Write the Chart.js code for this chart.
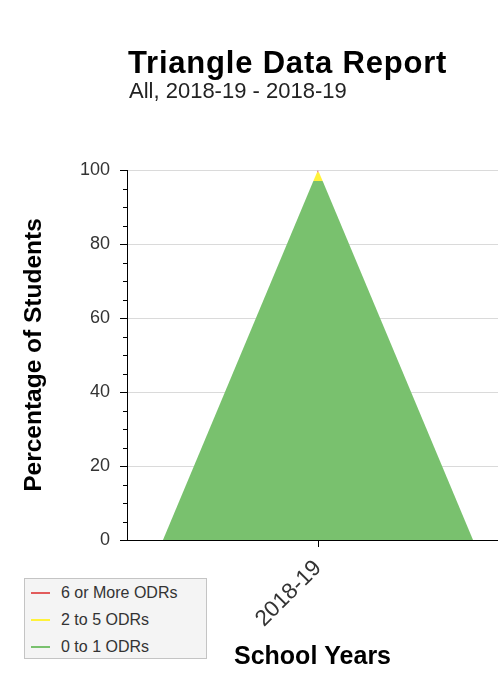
<!DOCTYPE html>
<html>
<head>
<meta charset="utf-8">
<script src="https://cdn.jsdelivr.net/npm/chart.js@4.4.0/dist/chart.umd.min.js"></script>
<style>
  html, body { margin: 0; padding: 0; background: #fff; overflow: hidden; }
  #wrap { position: relative; width: 498px; height: 694px; font-family: "Liberation Sans", Arial, sans-serif; }
  #chart { position: absolute; left: 0; top: 0; }
  #title { position: absolute; left: 128px; top: 47px; font-size: 31px; line-height: 31px; letter-spacing: 0.8px; font-weight: bold; color: #000; white-space: nowrap; }
  #subtitle { position: absolute; left: 129px; top: 80px; font-size: 22px; line-height: 22px; color: #222; white-space: nowrap; }
  #legend { position: absolute; left: 24px; top: 578px; width: 181px; height: 79px; background: #f4f4f4; border: 1px solid #c4c4c4; }
  .item { position: absolute; left: 0; width: 180px; height: 20px; font-size: 16px; line-height: 20px; color: #333; white-space: nowrap; }
  .item span.line { position: absolute; left: 6px; top: 9px; width: 19px; height: 2px; }
  .item span.txt { position: absolute; left: 36px; top: 0; }
</style>
</head>
<body>
<div id="wrap">
  <canvas id="chart" width="498" height="694"></canvas>
  <div id="title">Triangle Data Report</div>
  <div id="subtitle">All, 2018-19 - 2018-19</div>
  <div id="legend"></div>
</div>
<script>
// data (percent of students)
const years = ['2018-19']
const seriesNames = ['6 or More ODRs', '2 to 5 ODRs', '0 to 1 ODRs']
const seriesColors = ['#e25b5b', '#fff23a', '#79c16e']
const sixOrMore = [0.6]
const twoToFive = [2.4]
const zeroToOne = [97.0]
const yTicks = [0, 20, 40, 60, 80, 100]
const minorStep = 5

window.onload = function() {

    // one trapezoid slice of the triangle, between two cumulative percentages
    // the triangle's half width is 1 at 0 % and shrinks to 0 at 100 %
    function slice(bottom, top, xc) {
        let w = v => 1 - v / 100
        return [
            {x: xc - w(bottom), y: bottom},
            {x: xc - w(top), y: top},
            {x: xc + w(top), y: top},
            {x: xc + w(bottom), y: bottom}
        ]
    }

    // stack from the bottom up: 0-1, 2-5, 6+
    let layers = [[], [], []]
    years.forEach((yr, i) => {
        let xc = i * 2.5
        let b0 = 0, t0 = zeroToOne[i]
        let b1 = t0, t1 = b1 + twoToFive[i]
        let b2 = t1, t2 = b2 + sixOrMore[i]
        layers[2].push(...slice(b0, t0, xc))
        layers[1].push(...slice(b1, t1, xc))
        layers[0].push(...slice(b2, t2, xc))
    })

    let datasets = seriesNames.map((name, k) => ({
        label: name,
        data: layers[k],
        backgroundColor: seriesColors[k],
        borderColor: seriesColors[k],
        borderWidth: 0,
        pointRadius: 0,
        fill: 'shape',
        tension: 0
    }))

    // short minor ticks on the y axis every 5 %
    let minorTicks = {
        id: 'minorTicks',
        afterDraw(chart) {
            let y = chart.scales.y
            let ctx = chart.ctx
            ctx.save()
            ctx.strokeStyle = '#000'
            ctx.lineWidth = 1
            for (let v = y.min; v <= y.max; v += minorStep) {
                if (yTicks.includes(v)) continue
                let py = Math.round(y.getPixelForValue(v)) + 0.5
                ctx.beginPath()
                ctx.moveTo(y.right - 4, py)
                ctx.lineTo(y.right, py)
                ctx.stroke()
            }
            ctx.restore()
        }
    }

    let font = '"Liberation Sans", Arial, sans-serif'

    let chart = new Chart(document.getElementById('chart'), {
        type: 'line',
        data: { datasets: datasets },
        options: {
            responsive: false,
            maintainAspectRatio: false,
            animation: false,
            layout: { padding: { top: 170, left: 0, right: 0, bottom: 0 } },
            plugins: {
                legend: { display: false },
                tooltip: { enabled: false },
                filler: { propagate: false }
            },
            scales: {
                x: {
                    type: 'linear',
                    min: -1.232,
                    max: 1.161,
                    afterBuildTicks: s => { s.ticks = years.map((_, i) => ({ value: i * 2.5 })) },
                    afterFit: s => { s.height = 154 },
                    ticks: {
                        autoSkip: false,
                        minRotation: 45,
                        maxRotation: 45,
                        padding: 8,
                        color: '#333',
                        font: { family: font, size: 22.5 },
                        callback: (v, i) => years[i]
                    },
                    grid: { drawOnChartArea: false, drawTicks: true, tickLength: 7, tickColor: '#000' },
                    border: { color: '#000', width: 1 },
                    title: {
                        display: true,
                        text: 'School Years',
                        color: '#000',
                        font: { family: font, size: 25, weight: 'bold' },
                        padding: { top: 0, bottom: 22 }
                    }
                },
                y: {
                    min: 0,
                    max: 100,
                    afterBuildTicks: s => { s.ticks = yTicks.map(v => ({ value: v })) },
                    afterFit: s => { s.width = 127 },
                    ticks: {
                        padding: 10,
                        color: '#333',
                        font: { family: font, size: 18 }
                    },
                    grid: { color: '#dadada', tickColor: '#000', tickLength: 7 },
                    border: { color: '#000', width: 1 },
                    title: {
                        display: true,
                        text: 'Percentage of Students',
                        color: '#000',
                        font: { family: font, size: 24.5, weight: 'bold' },
                        padding: { top: 20, bottom: 0 }
                    }
                }
            }
        },
        plugins: [minorTicks]
    })

    // html legend built from the chart's datasets
    let legend = document.getElementById('legend')
    chart.data.datasets.forEach((ds, i) => {
        let item = document.createElement('div')
        item.className = 'item'
        item.style.top = (4 + i * 27) + 'px'
        item.innerHTML = '<span class="line" style="background:' + ds.borderColor + '"></span><span class="txt">' + ds.label + '</span>'
        legend.appendChild(item)
    })
}
</script>
</body>
</html>
